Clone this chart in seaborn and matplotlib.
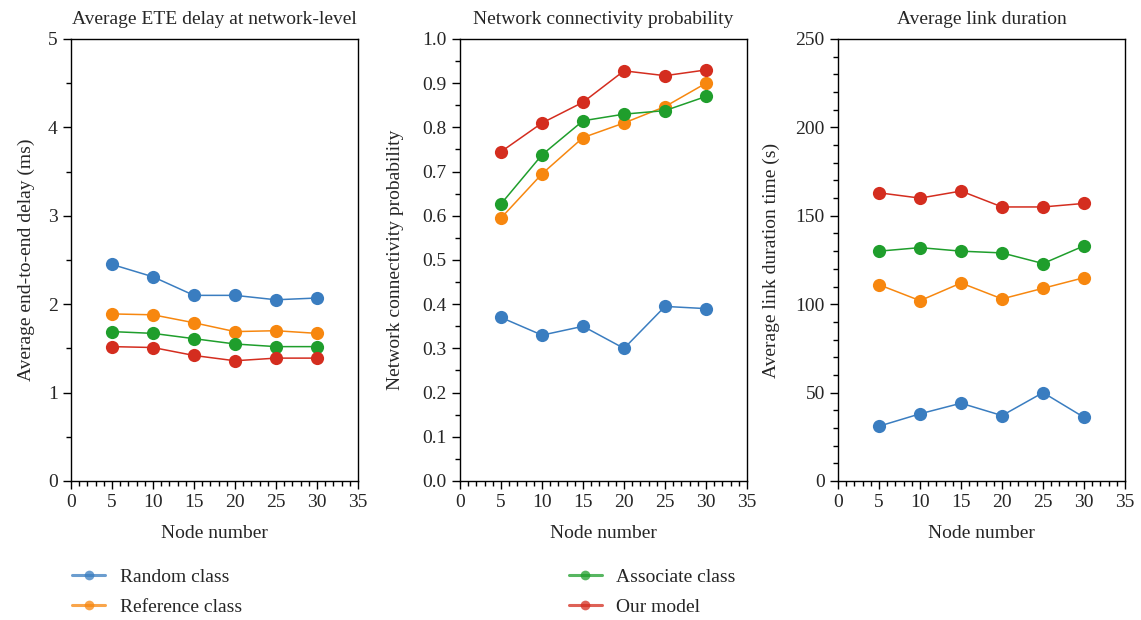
import numpy as np
import pandas as pd
import seaborn as sns
import matplotlib.pyplot as plt
from matplotlib.lines import Line2D
from matplotlib.ticker import MultipleLocator

# Data
nodes = [5, 10, 15, 20, 25, 30]
classes = ['Random class', 'Reference class', 'Associate class', 'Our model']
colors = ['#3a7dc0', '#f7870f', '#1f9e2c', '#d42d1f']

delay_random = [2.45, 2.31, 2.10, 2.10, 2.05, 2.07]
delay_reference = [1.89, 1.88, 1.79, 1.69, 1.70, 1.67]
delay_associate = [1.69, 1.67, 1.61, 1.55, 1.52, 1.52]
delay_ours = [1.52, 1.51, 1.42, 1.36, 1.39, 1.39]

conn_random = [0.37, 0.33, 0.35, 0.30, 0.395, 0.39]
conn_reference = [0.595, 0.695, 0.777, 0.81, 0.847, 0.90]
conn_associate = [0.627, 0.738, 0.815, 0.83, 0.838, 0.87]
conn_ours = [0.745, 0.81, 0.857, 0.928, 0.917, 0.93]

dur_random = [31, 38, 44, 37, 50, 36]
dur_reference = [111, 102, 112, 103, 109, 115]
dur_associate = [130, 132, 130, 129, 123, 133]
dur_ours = [163, 160, 164, 155, 155, 157]


def to_long(series):
    rows = []
    for name, vals in zip(classes, series):
        for n, v in zip(nodes, vals):
            rows.append({'node': n, 'value': v, 'cls': name})
    return pd.DataFrame(rows)


panels = [
    (to_long([delay_random, delay_reference, delay_associate, delay_ours]),
     'Average ETE delay at network-level', 'Average end-to-end delay (ms)',
     (0, 5), 1, 0.5, '%d', 9),
    (to_long([conn_random, conn_reference, conn_associate, conn_ours]),
     'Network connectivity probability', 'Network connectivity probability',
     (0, 1.0), 0.1, 0.05, '%.1f', 13),
    (to_long([dur_random, dur_reference, dur_associate, dur_ours]),
     'Average link duration', 'Average link duration time (s)',
     (0, 250), 50, 10, '%d', 11),
]

sns.set_style('ticks')
plt.rcParams['font.family'] = ['Liberation Serif', 'DejaVu Serif']
plt.rcParams['font.size'] = 14

fig, axes = plt.subplots(1, 3, figsize=(11.41, 6.2), dpi=100)
lefts = [0.0622, 0.4032, 0.7345]
for ax, l in zip(axes, lefts):
    ax.set_position([l, 0.2242, 0.2515, 0.7129])

palette = dict(zip(classes, colors))
for ax, (df, title, ylabel, ylim, major, minor, fmt, lpad) in zip(axes, panels):
    sns.lineplot(data=df, x='node', y='value', hue='cls', palette=palette,
                 marker='o', markersize=9.5, markeredgewidth=0, linewidth=1.1,
                 ax=ax, legend=False)
    ax.set_xlim(0, 35)
    ax.set_ylim(*ylim)
    ax.xaxis.set_major_locator(MultipleLocator(5))
    ax.xaxis.set_minor_locator(MultipleLocator(1))
    ax.yaxis.set_major_locator(MultipleLocator(major))
    ax.yaxis.set_minor_locator(MultipleLocator(minor))
    ax.yaxis.set_major_formatter(plt.FormatStrFormatter(fmt))
    ax.tick_params(which='major', length=6, width=1, color='black', labelsize=14)
    ax.tick_params(which='minor', length=3.5, width=1, color='black')
    for sp in ax.spines.values():
        sp.set_color('black')
        sp.set_linewidth(1)
    ax.set_title(title, fontsize=14, pad=11)
    ax.set_xlabel('Node number', fontsize=14, labelpad=10)
    ax.set_ylabel(ylabel, fontsize=14, labelpad=lpad)

# Legend: two columns placed under the first and second panels
handles = [Line2D([], [], color=c, alpha=0.75, linewidth=2.2, marker='o',
                  markersize=7, markeredgewidth=0, markerfacecolor=c)
           for c in colors]
fig.legend(handles[:2], classes[:2], loc='upper left',
           bbox_to_anchor=(0.048, 0.112), frameon=False, fontsize=14,
           handlelength=1.7, handletextpad=0.75, labelspacing=0.65)
fig.legend(handles[2:], classes[2:], loc='upper left',
           bbox_to_anchor=(0.483, 0.112), frameon=False, fontsize=14,
           handlelength=1.7, handletextpad=0.75, labelspacing=0.65)

fig.savefig('out.png', dpi=100)
